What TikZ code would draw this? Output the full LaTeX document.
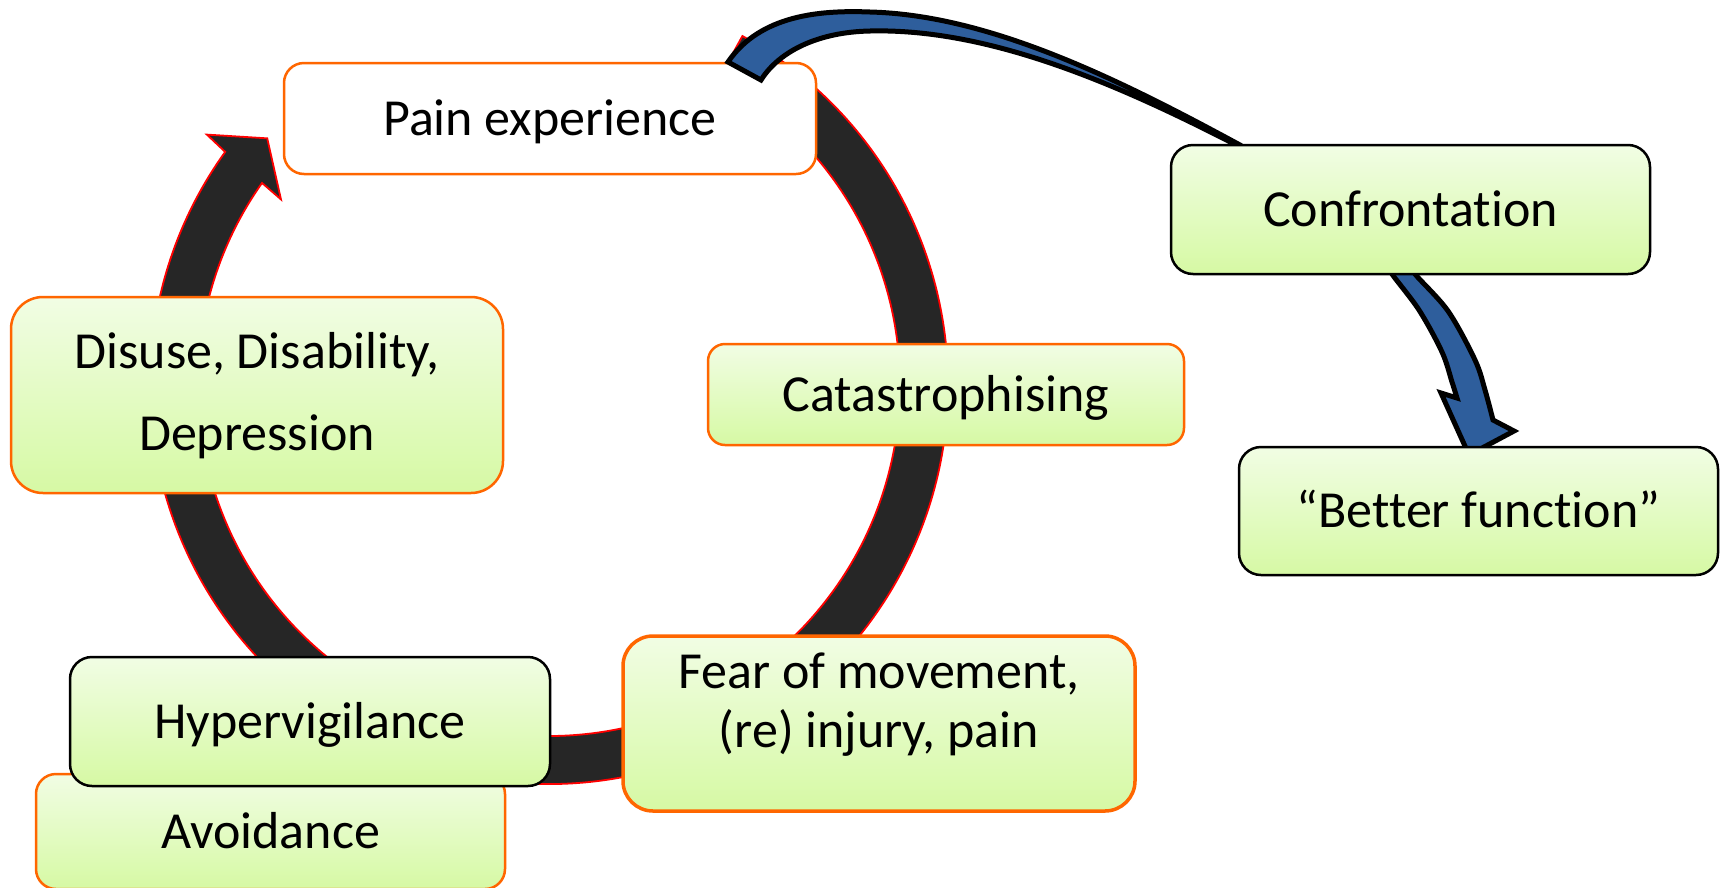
\documentclass[tikz,border=0pt]{standalone}
\usepackage{fontspec}
\setmainfont{Carlito}[Ligatures=NoCommon]
\usetikzlibrary{calc}
\definecolor{ringfill}{RGB}{38,38,38}
\definecolor{boxorange}{RGB}{255,102,0}
\definecolor{arrowblue}{RGB}{46,94,156}
\definecolor{greentop}{RGB}{241,253,228}
\definecolor{greenbot}{RGB}{214,249,164}
\begin{document}
\begin{tikzpicture}[x=1pt,y=-1pt,
  every node/.style={font=\fontsize{52}{62}\selectfont, inner sep=0pt, text height=33pt, text depth=0pt},
  orangebox/.style={draw=boxorange, line width=2.5pt, top color=greentop, bottom color=greenbot},
  blackbox/.style={draw=black, line width=2.5pt, top color=greentop, bottom color=greenbot},
  whitebox/.style={draw=boxorange, line width=2.5pt, fill=white},
  ringstyle/.style={fill=ringfill, draw=red, line width=1.8pt},
  bluearrow/.style={fill=arrowblue, draw=black, line width=5pt},
  txt/.style={anchor=base}
]
\clip (0,0) rectangle (1724,887);
\fill[white] (0,0) rectangle (1724,887);
\coordinate (C) at (549,385);

% circular arrow
\path[ringstyle] ($(C)+(-61:399)$) arc[start angle=-61, end angle=215.75, radius=399]
  -- ($(C)+(216.2:424)$) -- ($(C)+(221.2:374.5)$) -- ($(C)+(214.7:326)$)
  -- ($(C)+(215.15:351)$) arc[start angle=215.15, end angle=-61, radius=351] -- cycle;

% pain experience box
\node[whitebox, rounded corners=20pt, minimum width=532pt, minimum height=111pt] (pain) at (550,118.5) {Pain experience};

% blue arrow from confrontation to pain experience
\coordinate (tA) at (728,62);
\coordinate (tB) at (1240,145);
\coordinate (tC) at (1240,147);
\coordinate (tD) at (761,80);
\path[bluearrow] (tA) .. controls (760,15) and (820,10) .. (870,12)
  .. controls (990,15) and (1120,80) .. (tB) -- (tC)
  .. controls (1120,85) and (990,28) .. (870,31)
  .. controls (820,32) and (780,50) .. (tD) -- cycle;

% blue arrow from confrontation to better function
\path[bluearrow] plot[smooth, tension=0.55] coordinates {(1388,264) (1392,274) (1419,310) (1442,352) (1452,382) (1457,398)}
  -- (1441,393) -- (1469,455) -- (1514,431)
  -- plot[smooth, tension=0.55] coordinates {(1493,420) (1485,390) (1475,360) (1448,311) (1415,274) (1411,264)} -- cycle;

% boxes
\node[orangebox, rounded corners=17pt, minimum width=476pt, minimum height=101pt] (cat) at (946,394.5) {Catastrophising};
\node[blackbox, rounded corners=22pt, minimum width=479pt, minimum height=129pt] (conf) at (1410.5,209.5) {Confrontation};
\node[blackbox, rounded corners=22pt, minimum width=479pt, minimum height=128pt] (better) at (1478.5,511) {“Better function”};
\node[orangebox, rounded corners=32pt, minimum width=492pt, minimum height=196pt] (disuse) at (257,395) {};
\node[txt] (disuseA) at (257,368) {Disuse, Disability,};
\node[txt] (disuseB) at (257,450) {Depression};
\node[orangebox, rounded corners=20pt, minimum width=469pt, minimum height=115pt] (avoid) at (270.5,831.5) {Avoidance};
\node[blackbox, rounded corners=22pt, minimum width=480pt, minimum height=129pt] (hyper) at (310,721.5) {Hypervigilance};
\node[orangebox, line width=3.5pt, rounded corners=30pt, minimum width=512pt, minimum height=175pt] (fear) at (879,723.5) {};
\node[txt] (fearA) at (879,688) {Fear of movement,};
\node[txt] (fearB) at (879,747) {(re) injury, pain};
\end{tikzpicture}
\end{document}
